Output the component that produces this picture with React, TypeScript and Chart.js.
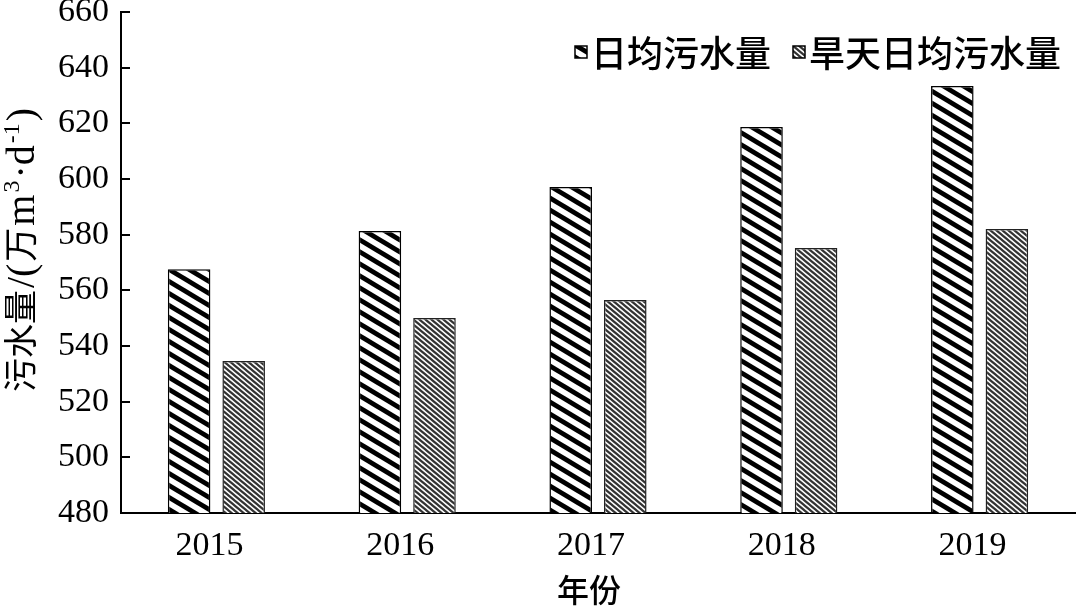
import React, { useEffect, useRef } from 'react';
import { Chart, registerables } from 'chart.js';

Chart.register(...registerables);

const categories = ['2015', '2016', '2017', '2018', '2019'];
const dailySewage = [567.6, 581.3, 597.1, 618.7, 633.4];
const dryDaySewage = [534.6, 550.1, 556.5, 575.2, 582.0];
const seriesNames = ['日均污水量', '旱天日均污水量'];
const yMin = 480;
const yMax = 660;
const yStep = 20;
const xTitle = '年份';
const yTitleParts = [
  { t: '污水量', f: 'cjk' },
  { t: '/(', f: 'serif' },
  { t: '万', f: 'cjk' },
  { t: 'm', f: 'serif' },
  { t: '3', f: 'sup' },
  { t: '·d', f: 'serif' },
  { t: '-1', f: 'sup' },
  { t: ')', f: 'serif' },
];

const CJK = '"Noto Sans CJK SC", sans-serif';
const SERIF = '"Liberation Serif", "DejaVu Serif", serif';

function makeStripePattern(w: number, h: number, lw: number, color: string, bg: string) {
  const c = document.createElement('canvas');
  c.width = w;
  c.height = h;
  const g = c.getContext('2d')!;
  g.fillStyle = bg;
  g.fillRect(0, 0, w, h);
  g.strokeStyle = color;
  g.lineWidth = lw;
  for (let k = -3; k <= 3; k++) {
    g.beginPath();
    g.moveTo(-w, -h + k * h);
    g.lineTo(2 * w, 2 * h + k * h);
    g.stroke();
  }
  return g.createPattern(c, 'repeat')!;
}

const decorPlugin = {
  id: 'decor',
  afterDraw(chart: any) {
    const ctx = chart.ctx as CanvasRenderingContext2D;
    const area = chart.chartArea;
    const ys = chart.scales.y;
    // inside tick marks
    ctx.save();
    ctx.strokeStyle = '#000';
    ctx.lineWidth = 2;
    ys.ticks.forEach((tk: any) => {
      const py = Math.round(ys.getPixelForValue(tk.value));
      ctx.beginPath();
      ctx.moveTo(area.left, py);
      ctx.lineTo(area.left + 9, py);
      ctx.stroke();
    });
    ctx.restore();

    // y title
    ctx.save();
    ctx.translate(21, 250);
    ctx.rotate(-Math.PI / 2);
    ctx.fillStyle = '#000';
    ctx.textBaseline = 'alphabetic';
    const fontFor = (f: string) =>
      f === 'cjk' ? `34px ${CJK}` : f === 'sup' ? `24px ${SERIF}` : `40px ${SERIF}`;
    const gap = 2;
    let total = 0;
    yTitleParts.forEach((p, i) => {
      ctx.font = fontFor(p.f);
      total += ctx.measureText(p.t).width + (i > 0 ? gap : 0);
    });
    let x = -total / 2;
    yTitleParts.forEach((p) => {
      ctx.font = fontFor(p.f);
      const dy = p.f === 'sup' ? -2 : p.f === 'cjk' ? 12 : 13;
      ctx.fillText(p.t, x, dy);
      x += ctx.measureText(p.t).width + gap;
    });
    ctx.restore();

    // x title
    ctx.save();
    ctx.fillStyle = '#000';
    ctx.font = `500 32px ${CJK}`;
    ctx.textAlign = 'center';
    ctx.textBaseline = 'middle';
    ctx.fillText(xTitle, 589, 590);
    ctx.restore();

    // legend
    ctx.save();
    ctx.font = `500 36px ${CJK}`;
    ctx.textBaseline = 'middle';
    ctx.textAlign = 'left';
    const ds = chart.data.datasets;
    const right = 1061;
    const box = 12;
    const gapBoxText = 4;
    const gapItems = 22;
    const widths = ds.map((d: any) => ctx.measureText(d.label).width);
    let cursor = right;
    for (let i = ds.length - 1; i >= 0; i--) {
      cursor -= widths[i];
      const textX = cursor;
      cursor -= gapBoxText + box;
      ctx.fillStyle = '#000';
      ctx.fillText(ds[i].label, textX, 53);
      ctx.fillStyle = ds[i].backgroundColor;
      ctx.fillRect(cursor, 46, box, box);
      ctx.strokeStyle = '#000';
      ctx.lineWidth = 1.5;
      ctx.strokeRect(cursor, 46, box, box);
      cursor -= gapItems;
    }
    ctx.restore();
  },
};

export default function App() {
  const ref = useRef<HTMLCanvasElement | null>(null);
  useEffect(() => {
    const canvas = ref.current!;
    const p1 = makeStripePattern(20, 12, 4.8, '#000', '#fff');
    const p2 = makeStripePattern(6, 5, 2.2, '#333', '#fff');
    const chart = new Chart(canvas, {
      type: 'bar',
      data: {
        labels: categories,
        datasets: [
          {
            label: seriesNames[0],
            data: dailySewage,
            backgroundColor: p1 as any,
            borderColor: '#000',
            borderWidth: 1.5,
            categoryPercentage: 0.572,
            barPercentage: 0.78,
          },
          {
            label: seriesNames[1],
            data: dryDaySewage,
            backgroundColor: p2 as any,
            borderColor: '#222',
            borderWidth: 1.5,
            categoryPercentage: 0.572,
            barPercentage: 0.78,
          },
        ],
      },
      options: {
        animation: false,
        responsive: false,
        devicePixelRatio: 1,
        layout: { padding: { top: 12, right: 5, left: 0, bottom: 0 } },
        plugins: { legend: { display: false }, tooltip: { enabled: false } },
        scales: {
          x: {
            grid: { display: false, drawTicks: false },
            border: { display: true, color: '#000', width: 2 },
            ticks: {
              color: '#000',
              padding: 13,
              labelOffset: -7,
              font: { family: SERIF, size: 34, lineHeight: 1.2 },
            },
            afterFit: (s: any) => {
              s.height = 95;
            },
          },
          y: {
            min: yMin,
            max: yMax,
            grid: { display: false, drawTicks: false },
            border: { display: true, color: '#000', width: 2 },
            ticks: {
              stepSize: yStep,
              color: '#000',
              padding: 12,
              font: { family: SERIF, size: 34, lineHeight: 1.0 },
            },
            afterFit: (s: any) => {
              s.width = 121;
              s.paddingTop = 0;
              s.paddingBottom = 0;
            },
          },
        },
      },
      plugins: [decorPlugin],
    });
    return () => chart.destroy();
  }, []);
  return (
    <div style={{ position: 'absolute', left: 0, top: 0, width: 1080, height: 608, background: '#fff' }}>
      <canvas ref={ref} width={1080} height={608} style={{ display: 'block' }} />
    </div>
  );
}
